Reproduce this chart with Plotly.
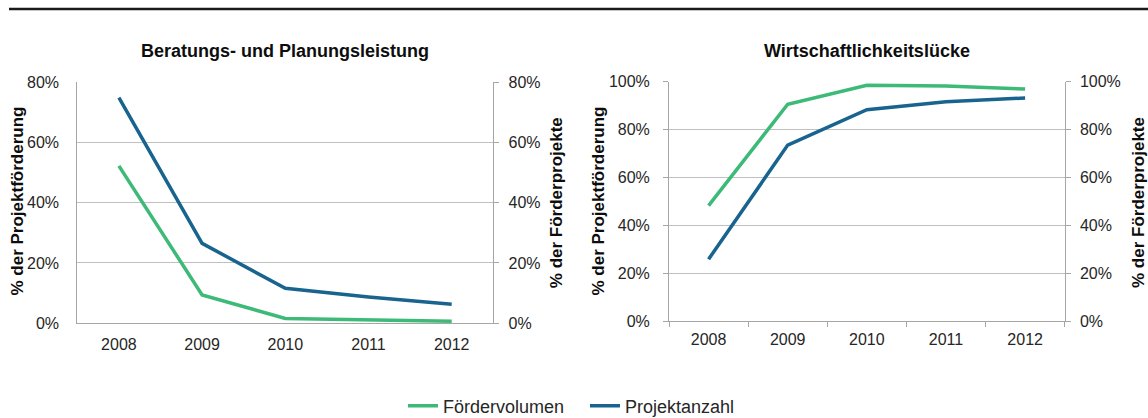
import plotly.graph_objects as go

years = ["2008", "2009", "2010", "2011", "2012"]

# Beratungs- und Planungsleistung
bp_foerdervolumen = [52.2, 9.4, 1.6, 1.1, 0.7]
bp_projektanzahl = [74.8, 26.5, 11.6, 8.7, 6.3]

# Wirtschaftlichkeitslücke
wl_foerdervolumen = [48.2, 90.6, 98.5, 98.2, 96.9]
wl_projektanzahl = [25.8, 73.5, 88.3, 91.6, 93.2]

left_ticks = [0, 20, 40, 60, 80]
right_ticks = [0, 20, 40, 60, 80, 100]

GREEN = "#3dba78"
BLUE = "#19648f"
GRID = "#c0c0c0"
AXIS = "#a6a6a6"
TXT = "#262626"
FONT = "Liberation Sans, Arial, sans-serif"

W, H = 1148, 418

def px_x(v):
    return v / W

def px_y(v):
    return (H - v) / H

fig = go.Figure()

fig.add_trace(go.Scatter(x=years, y=bp_foerdervolumen, mode="lines", name="Fördervolumen",
                         line=dict(color=GREEN, width=3.5), xaxis="x", yaxis="y", legendgroup="fv"))
fig.add_trace(go.Scatter(x=years, y=bp_projektanzahl, mode="lines", name="Projektanzahl",
                         line=dict(color=BLUE, width=3.5), xaxis="x", yaxis="y2", legendgroup="pa"))
fig.add_trace(go.Scatter(x=years, y=wl_foerdervolumen, mode="lines", name="Fördervolumen",
                         line=dict(color=GREEN, width=3.5), xaxis="x2", yaxis="y3",
                         legendgroup="fv", showlegend=False))
fig.add_trace(go.Scatter(x=years, y=wl_projektanzahl, mode="lines", name="Projektanzahl",
                         line=dict(color=BLUE, width=3.5), xaxis="x2", yaxis="y4",
                         legendgroup="pa", showlegend=False))

tickfont = dict(family=FONT, size=16, color=TXT)

def yax(domain, rng, tickvals, anchor, side="left", overlaying=None, grid=True,
        tickcolor=AXIS, standoff=8):
    d = dict(domain=domain, range=rng, tickmode="array", tickvals=tickvals,
             ticktext=[f"{v}%" for v in tickvals], anchor=anchor,
             side=side, showgrid=grid, gridcolor=GRID, gridwidth=1, zeroline=False,
             showline=True, linecolor=AXIS, linewidth=1, ticks="outside", ticklen=5,
             tickcolor=tickcolor, tickfont=tickfont, fixedrange=True,
             ticklabelstandoff=standoff)
    if overlaying:
        d["overlaying"] = overlaying
    return d

layout = dict(
    width=W, height=H,
    margin=dict(l=0, r=0, t=0, b=0, autoexpand=False),
    paper_bgcolor="white", plot_bgcolor="white",
    font=dict(family=FONT, color=TXT),
    xaxis=dict(domain=[px_x(77.3), px_x(493.3)], anchor="y", type="category",
               range=[-0.5, 4.5], showline=True, linecolor=AXIS, linewidth=1,
               ticks="", showgrid=False, tickfont=tickfont, ticklabelstandoff=6),
    yaxis=yax([px_y(323.3), px_y(82)], [0, 80], left_ticks, "x", tickcolor="white", standoff=9),
    yaxis2=yax([px_y(323.3), px_y(82)], [0, 80], left_ticks, "x", side="right",
               overlaying="y", grid=False, standoff=6),
    xaxis2=dict(domain=[px_x(669), px_x(1064.7)], anchor="y3", type="category",
                range=[-0.5, 4.5], showline=True, linecolor=AXIS, linewidth=1,
                ticks="outside", tickson="boundaries", ticklen=5, tickcolor=AXIS,
                showgrid=False, tickfont=tickfont, ticklabelstandoff=4),
    yaxis3=yax([px_y(321), px_y(81.7)], [0, 100], right_ticks, "x2", standoff=10),
    yaxis4=yax([px_y(321), px_y(81.7)], [0, 100], right_ticks, "x2", side="right",
               overlaying="y3", grid=False, standoff=6),
    legend=dict(orientation="h", x=px_x(403), xanchor="left", y=px_y(406), yanchor="middle",
                font=dict(family=FONT, size=18, color=TXT), bgcolor="rgba(0,0,0,0)",
                itemwidth=30, tracegroupgap=0, entrywidth=137, entrywidthmode="pixels"),
    showlegend=True,
)
fig.update_layout(**layout)

title_font = dict(family=FONT, size=18, color="#0d0d0d")
axtitle_font = dict(family=FONT, size=17, color="#0d0d0d")

annotations = [
    dict(text="<b>Beratungs- und Planungsleistung</b>", x=px_x(285.3), y=px_y(51),
         font=title_font),
    dict(text="<b>Wirtschaftlichkeitslücke</b>", x=px_x(866.9), y=px_y(51),
         font=title_font),
    dict(text="<b>% der Projektförderung</b>", x=px_x(17), y=px_y(201.5), textangle=-90,
         font=axtitle_font),
    dict(text="<b>% der Förderprojekte</b>", x=px_x(556.7), y=px_y(202.5), textangle=-90,
         font=axtitle_font),
    dict(text="<b>% der Projektförderung</b>", x=px_x(598), y=px_y(201.5), textangle=-90,
         font=axtitle_font),
    dict(text="<b>% der Förderprojekte</b>", x=px_x(1138.5), y=px_y(202.5), textangle=-90,
         font=axtitle_font),
]
for a in annotations:
    a.update(xref="paper", yref="paper", showarrow=False, xanchor="center", yanchor="middle")
fig.update_layout(annotations=annotations)

fig.add_shape(type="line", xref="paper", yref="paper", x0=px_x(9), x1=1.0,
              y0=px_y(9), y1=px_y(9), line=dict(color="#1a1a1a", width=2.5))

fig.write_html("out.html", config={"displayModeBar": False},
               post_script="document.body.style.margin='0';document.body.style.overflow='hidden';")
